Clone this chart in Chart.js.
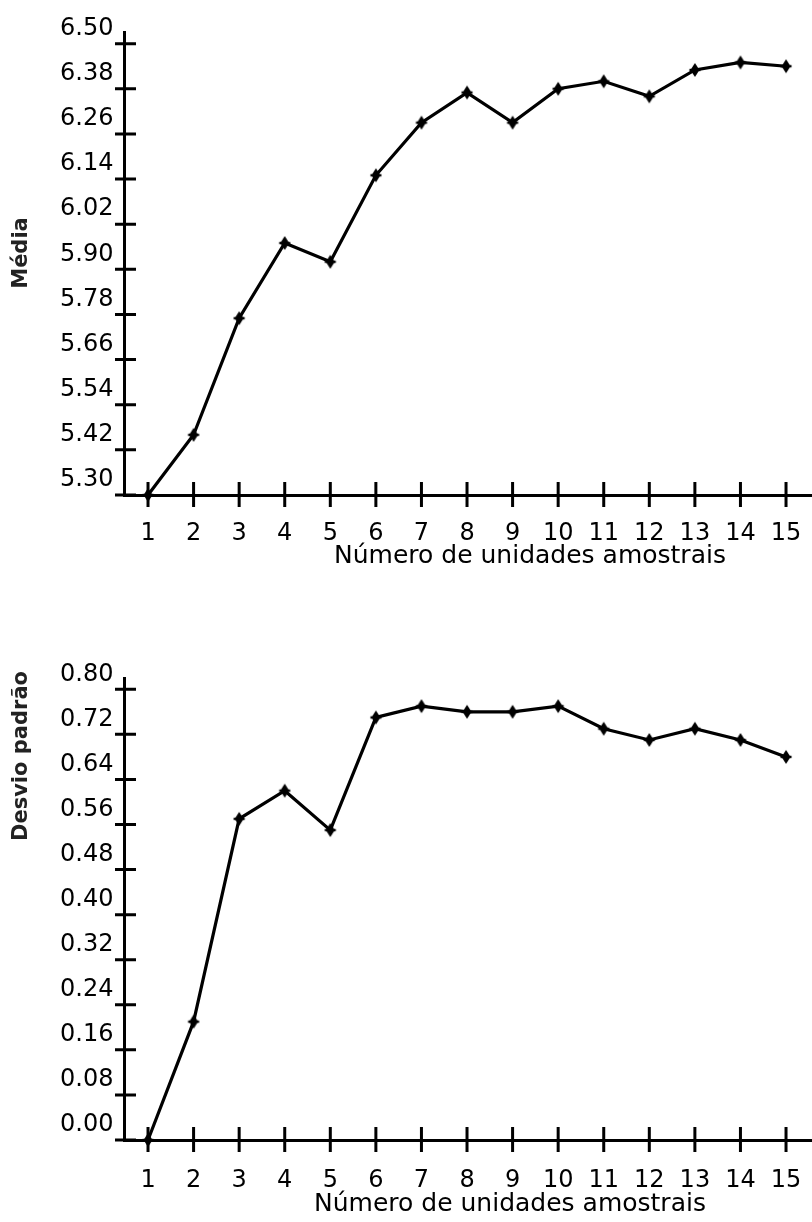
<!DOCTYPE html>
<html>
<head>
<meta charset="utf-8">
<script src="https://cdn.jsdelivr.net/npm/chart.js@4.4.0/dist/chart.umd.min.js"></script>
<style>
  html, body { margin: 0; padding: 0; background: #fff; }
  .wrap { position: absolute; left: 0; width: 812px; }
  #top { top: 0; height: 600px; }
  #bottom { top: 600px; height: 622px; }
</style>
</head>
<body>
<div class="wrap" id="top"><canvas id="mediaChart" width="812" height="600"></canvas></div>
<div class="wrap" id="bottom"><canvas id="desvioChart" width="812" height="622"></canvas></div>
<script>
// --- data ---
const unidades = [1, 2, 3, 4, 5, 6, 7, 8, 9, 10, 11, 12, 13, 14, 15];
const media = [5.30, 5.46, 5.77, 5.97, 5.92, 6.15, 6.29, 6.37, 6.29, 6.38, 6.40, 6.36, 6.43, 6.45, 6.44];
const desvio = [0.00, 0.21, 0.57, 0.62, 0.55, 0.75, 0.77, 0.76, 0.76, 0.77, 0.73, 0.71, 0.73, 0.71, 0.68];
const mediaTicks = [5.30, 5.42, 5.54, 5.66, 5.78, 5.90, 6.02, 6.14, 6.26, 6.38, 6.50];
const desvioTicks = [0.00, 0.08, 0.16, 0.24, 0.32, 0.40, 0.48, 0.56, 0.64, 0.72, 0.80];
const xTitle = 'Número de unidades amostrais';

const FONT = '"DejaVu Sans", Verdana, sans-serif';

// small diamond-with-bar marker like the original
const marker = document.createElement('canvas');
marker.width = 14; marker.height = 16;
(() => {
    const c = marker.getContext('2d');
    c.fillStyle = '#000';
    c.beginPath();
    c.moveTo(7, 1); c.lineTo(11.5, 8); c.lineTo(7, 15); c.lineTo(2.5, 8);
    c.closePath();
    c.fill();
    c.fillRect(1.5, 6.8, 11, 2.4);
})();

// tick marks that cross the axes + free-standing axis titles
const axisDecor = {
    id: 'axisDecor',
    afterDatasetsDraw(chart, args, opts) {
        const { ctx, scales: { x, y } } = chart;
        ctx.save();
        ctx.strokeStyle = '#000';
        ctx.lineWidth = 3;
        ctx.beginPath();
        y.ticks.forEach((t, i) => {
            const py = y.getPixelForTick(i);
            ctx.moveTo(y.right - 9.5, py);
            ctx.lineTo(y.right + 11.5, py);
        });
        x.ticks.forEach((t, i) => {
            const px = x.getPixelForTick(i);
            ctx.moveTo(px, x.top - 13);
            ctx.lineTo(px, x.top + 12);
        });
        ctx.stroke();

        ctx.fillStyle = '#000';
        ctx.textAlign = 'center';
        ctx.textBaseline = 'middle';
        ctx.font = '25px ' + FONT;
        ctx.fillText(opts.xText, opts.xPos[0], opts.xPos[1]);

        ctx.translate(opts.yPos[0], opts.yPos[1]);
        ctx.rotate(-Math.PI / 2);
        ctx.font = 'bold 21px ' + FONT;
        ctx.fillStyle = '#222';
        ctx.fillText(opts.yText, 0, 0);
        ctx.restore();
    }
};

function makeChart(canvasId, values, yTicks, yMax, axisY, canvasH, labelPad, decor) {
    return new Chart(document.getElementById(canvasId), {
        type: 'line',
        data: {
            datasets: [{
                data: unidades.map((u, i) => ({ x: u, y: values[i] })),
                borderColor: '#000',
                borderWidth: 3.2,
                pointStyle: marker,
                pointRadius: 6,
                tension: 0,
                clip: false
            }]
        },
        options: {
            responsive: false,
            animation: false,
            layout: {
                autoPadding: false,
                padding: { top: axisY.top, left: 0, right: 0, bottom: 0 }
            },
            plugins: {
                legend: { display: false },
                tooltip: { enabled: false },
                axisDecor: decor
            },
            scales: {
                x: {
                    type: 'linear',
                    min: 0.484,
                    max: 15.57,
                    afterBuildTicks: s => { s.ticks = unidades.map(v => ({ value: v })); },
                    afterFit: s => {
                        s.height = canvasH - axisY.bottom;
                        s.paddingLeft = 0;
                        s.paddingRight = 0;
                    },
                    grid: { display: false, drawTicks: false },
                    border: { display: true, color: '#000', width: 3 },
                    ticks: {
                        color: '#000',
                        font: { family: FONT, size: 24 },
                        padding: labelPad,
                        maxRotation: 0,
                        autoSkip: false,
                        callback: v => String(v)
                    }
                },
                y: {
                    type: 'linear',
                    min: yTicks[0],
                    max: yMax,
                    afterBuildTicks: s => { s.ticks = yTicks.map(v => ({ value: v })); },
                    afterFit: s => {
                        s.width = 124.5;
                        s.paddingTop = 0;
                        s.paddingBottom = 0;
                    },
                    grid: { display: false, drawTicks: false },
                    border: { display: true, color: '#000', width: 3 },
                    ticks: {
                        color: '#000',
                        font: { family: FONT, size: 24 },
                        padding: 11,
                        labelOffset: -15,
                        autoSkip: false,
                        callback: v => v.toFixed(2)
                    }
                }
            }
        },
        plugins: [axisDecor]
    });
}

makeChart('mediaChart', media, mediaTicks, 6.531, { top: 32, bottom: 495 }, 600, 24,
    { xText: xTitle, xPos: [530, 556], yText: 'Média', yPos: [22, 253] });

makeChart('desvioChart', desvio, desvioTicks, 0.82, { top: 78, bottom: 540 }, 622, 26,
    { xText: xTitle, xPos: [510, 604], yText: 'Desvio padrão', yPos: [22, 156] });
</script>
</body>
</html>
